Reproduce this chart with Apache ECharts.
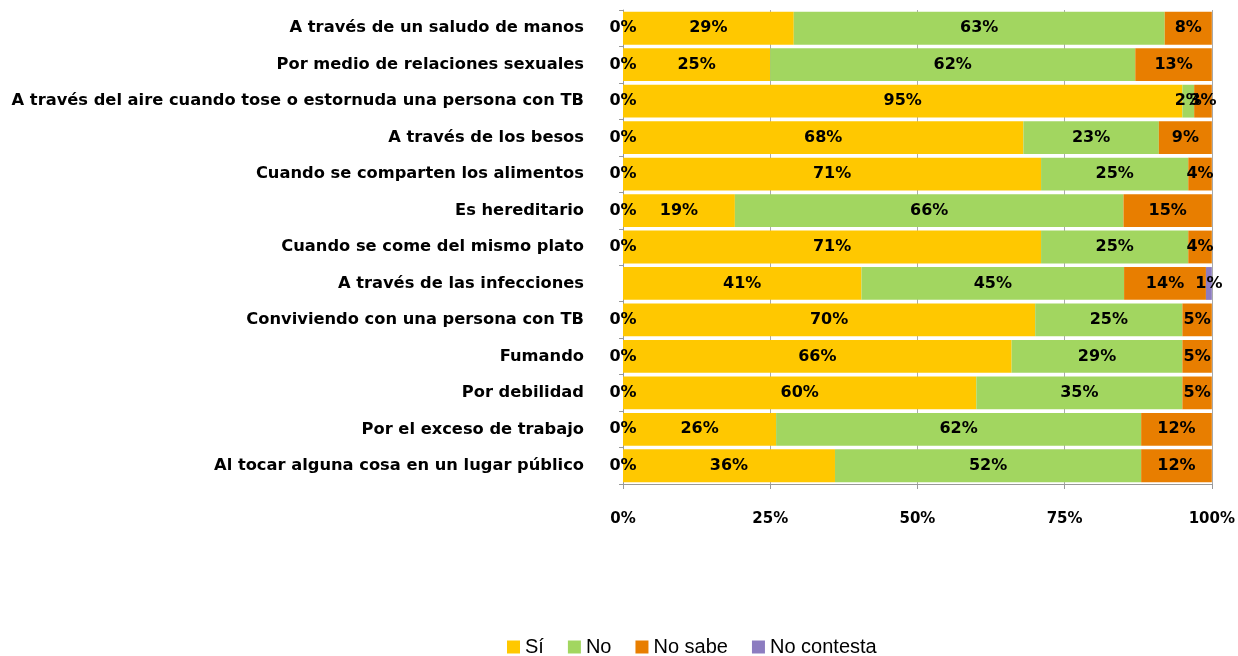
<!DOCTYPE html>
<html>
<head>
<meta charset="utf-8">
<script src="https://cdn.jsdelivr.net/npm/echarts@6/dist/echarts.min.js"></script>
<style>
  html, body { margin: 0; padding: 0; background: #fff; }
  #chart { width: 1238px; height: 656px; }
</style>
</head>
<body>
<div id="chart"></div>
<script>
// categorias (de arriba abajo)
const categories = [
  "A través de un saludo de manos",
  "Por medio de relaciones sexuales",
  "A través del aire cuando tose o estornuda una persona con TB",
  "A través de los besos",
  "Cuando se comparten los alimentos",
  "Es hereditario",
  "Cuando se come del mismo plato",
  "A través de las infecciones",
  "Conviviendo con una persona con TB",
  "Fumando",
  "Por debilidad",
  "Por el exceso de trabajo",
  "Al tocar alguna cosa en un lugar público"
]

const si = [29, 25, 95, 68, 71, 19, 71, 40.5, 70, 66, 60, 26, 36]
const no = [63, 62, 2, 23, 25, 66, 25, 44.6, 25, 29, 35, 62, 52]
const noSabe = [8, 13, 3, 9, 4, 15, 4, 13.9, 5, 5, 5, 12, 12]
const noContesta = [0, 0, 0, 0, 0, 0, 0, 1, 0, 0, 0, 0, 0]
// etiqueta "0%" que aparece al inicio de cada barra
const zeroLead = [0, 0, 0, 0, 0, 0, 0, null, 0, 0, 0, 0, 0]

const xTicks = [0, 25, 50, 75, 100]

const labelFont = "DejaVu Sans"

function pctLabel(p) {
  return Math.round(p.value) + "%"
}

function labelStyle(formatter) {
  return {
    show: true,
    position: "inside",
    color: "#000",
    fontFamily: labelFont,
    fontWeight: "bold",
    fontSize: 16,
    formatter: formatter
  }
}

function barSeries(name, data, color) {
  return {
    name: name,
    type: "bar",
    stack: "total",
    data: data,
    barCategoryGap: "10%",
    itemStyle: { color: color },
    label: labelStyle(pctLabel)
  }
}

const series = [
  {
    name: "lead",
    type: "bar",
    stack: "total",
    data: zeroLead,
    barCategoryGap: "10%",
    itemStyle: { color: "transparent" },
    label: labelStyle((p) => (p.value === null || p.value === undefined ? "" : "0%"))
  },
  barSeries("Sí", si, "#ffc800"),
  barSeries("No", no, "#a2d660"),
  barSeries("No sabe", noSabe, "#e87e00"),
  {
    name: "No contesta",
    type: "bar",
    stack: "total",
    data: noContesta,
    barCategoryGap: "10%",
    itemStyle: { color: "#8c7cc0" },
    label: labelStyle((p) => (p.value > 0 ? Math.round(p.value) + "%" : ""))
  }
]

const chart = echarts.init(document.getElementById("chart"))

chart.setOption({
  animation: false,
  grid: { left: 623, right: 25, top: 10, bottom: 172, containLabel: false },
  legend: {
    data: ["Sí", "No", "No sabe", "No contesta"],
    top: 632,
    left: 502,
    icon: "rect",
    itemWidth: 13,
    itemHeight: 13,
    itemGap: 24,
    textStyle: { fontFamily: "Liberation Sans", fontSize: 20, color: "#000" }
  },
  xAxis: {
    type: "value",
    min: 0,
    max: 100,
    interval: 25,
    axisLine: { show: true, lineStyle: { color: "#999" } },
    axisTick: { show: true, length: 5, lineStyle: { color: "#999" } },
    splitLine: { show: true, lineStyle: { color: "#aaa" } },
    axisLabel: {
      margin: 28,
      color: "#000",
      fontFamily: labelFont,
      fontWeight: "bold",
      fontSize: 15,
      formatter: (v) => (xTicks.indexOf(v) >= 0 ? v + "%" : "")
    }
  },
  yAxis: {
    type: "category",
    data: categories,
    inverse: true,
    axisLine: { show: true, lineStyle: { color: "#999" } },
    axisTick: { show: true, length: 4, lineStyle: { color: "#999" } },
    axisLabel: {
      margin: 39,
      color: "#000",
      fontFamily: labelFont,
      fontWeight: "bold",
      fontSize: 16.3
    }
  },
  series: series
})
</script>
</body>
</html>
